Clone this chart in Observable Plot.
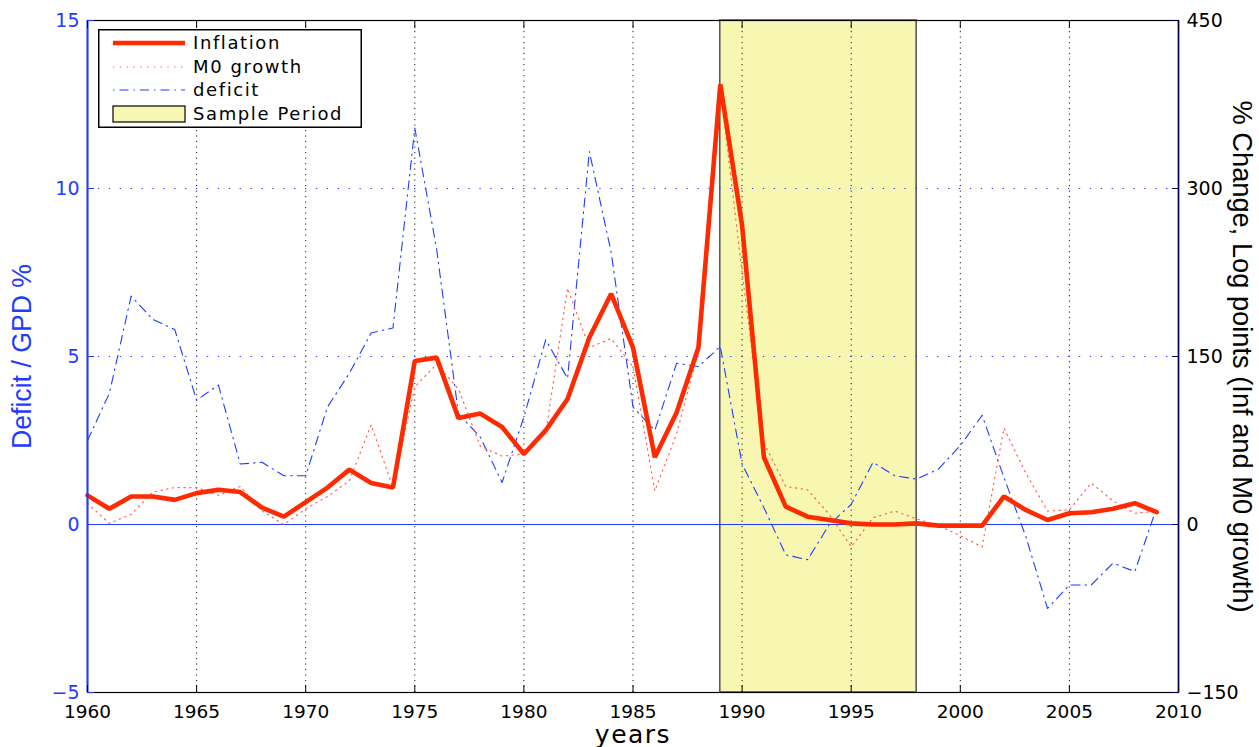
<!DOCTYPE html>
<html>
<head>
<meta charset="utf-8">
<script src="https://cdn.jsdelivr.net/npm/d3@7"></script>
<script src="https://cdn.jsdelivr.net/npm/@observablehq/plot@0.6"></script>
<style>
html, body { margin: 0; padding: 0; background: #fff; }
#wrap { position: relative; width: 1259px; height: 747px; font-family: "DejaVu Sans", sans-serif; }
#legend { position: absolute; left: 98px; top: 29px; }
</style>
</head>
<body>
<div id="wrap"></div>
<script>
// ---- data ----
const years = [1960,1961,1962,1963,1964,1965,1966,1967,1968,1969,
  1970,1971,1972,1973,1974,1975,1976,1977,1978,1979,
  1980,1981,1982,1983,1984,1985,1986,1987,1988,1989,
  1990,1991,1992,1993,1994,1995,1996,1997,1998,1999,
  2000,2001,2002,2003,2004,2005,2006,2007,2008,2009];
// inflation, % change log points (right axis)
const inflation = [26,14,25,25,22,28,31,29,15,7,
  20,33,49,37,33,146,149,95,99,87,
  63,84,112,167,206,158,60,100,158,393,
  267,60,16,7,4,1,0,0,1,-1,
  -1,-1,25,13,4,10,11,14,19,11];
// M0 growth, % change log points (right axis)
const m0growth = [19,1,9,29,33,33,26,34,12,0,
  14,25,39,89,33,123,143,121,70,61,
  63,82,211,158,166,141,30,81,155,390,
  225,73,34,31,9,-20,6,12,5,-1,
  -10,-20,86,46,12,13,37,21,10,12];
// deficit / GDP % (left axis)
const deficit = [2.5,3.9,6.8,6.1,5.8,3.7,4.15,1.8,1.85,1.45,
  1.45,3.5,4.5,5.7,5.85,11.8,8.2,3.3,2.6,1.25,
  3.2,5.5,4.35,11.1,8.1,3.5,2.8,4.8,4.7,5.3,
  1.8,0.5,-0.9,-1.05,0.0,0.6,1.85,1.45,1.35,1.65,
  2.35,3.25,1.4,-0.35,-2.5,-1.8,-1.8,-1.15,-1.4,0.5];
const samplePeriod = [1989, 1998];
const xTicks = [1960,1965,1970,1975,1980,1985,1990,1995,2000,2005,2010];
const leftTicks = [-5,0,5,10,15];
const rightTicks = [-150,0,150,300,450];
const gridLeft = [5,10];
const seriesNames = ["Inflation","M0 growth","deficit","Sample Period"];
const leftLabel = "Deficit / GPD %";
const rightLabel = "% Change, Log points (Inf and M0 growth)";
const xLabel = "years";

// ---- styling ----
const BLUE = "#1f3cff";
const RED = "#ff2a00";
const SALMON = "#ff6050";
const YELLOW = "#f8f7b2";
const NAVY = "#00005e";
const TICKFONT = "'DejaVu Sans', sans-serif";
const TITLEFONT = "'Liberation Sans', Arial, sans-serif";
const ratio = rightTicks[rightTicks.length-1] / leftTicks[leftTicks.length-1]; // right units per left unit
const minus = v => (v < 0 ? "\u2212" + Math.abs(v) : String(v));

const rows = years.map((y, i) => ({year: y, inf: inflation[i], m0: m0growth[i], def: deficit[i]}));

const plot = Plot.plot({
  width: 1259,
  height: 747,
  marginLeft: 87,
  marginRight: 81,
  marginTop: 20,
  marginBottom: 55,
  style: {fontFamily: TICKFONT, fontSize: "18px", background: "#fff", overflow: "visible"},
  x: {domain: [xTicks[0], xTicks[xTicks.length-1]]},
  y: {domain: [leftTicks[0], leftTicks[leftTicks.length-1]]},
  marks: [
    Plot.rect([{a: samplePeriod[0], b: samplePeriod[1]}], {x1: "a", x2: "b", fill: YELLOW, stroke: "#5a5a5a", strokeWidth: 1.6}),
    Plot.gridX(xTicks.slice(1, -1), {stroke: "#000", strokeOpacity: 0.9, strokeDasharray: "1.2,4.3"}),
    Plot.gridY(gridLeft, {stroke: BLUE, strokeOpacity: 1, strokeDasharray: "1.3,9.6"}),
    Plot.ruleY([0], {stroke: BLUE, strokeWidth: 1.2}),
    Plot.line(rows, {x: "year", y: "def", stroke: BLUE, strokeWidth: 1.1, strokeDasharray: "9,5,1.5,5"}),
    Plot.line(rows, {x: "year", y: d => d.m0 / ratio, stroke: SALMON, strokeWidth: 1.2, strokeDasharray: "1.3,4.5"}),
    Plot.line(rows, {x: "year", y: d => d.inf / ratio, stroke: RED, strokeWidth: 4.6, strokeLinejoin: "miter"}),
    Plot.frame({stroke: "#000", strokeWidth: 1.2}),
    Plot.ruleX([xTicks[0]], {stroke: BLUE, strokeWidth: 2}),
    Plot.ruleX([xTicks[xTicks.length-1]], {stroke: NAVY, strokeWidth: 1.6}),
    // bottom axis: labels + inner ticks
    Plot.axisX({ticks: xTicks, tickFormat: d => String(d), tickSize: 0, tickPadding: 12, label: null, fill: "#000", fontSize: 18.5}),
    Plot.axisX({ticks: xTicks, tickFormat: () => "", tickSize: -7, label: null, stroke: "#000"}),
    Plot.axisX({anchor: "top", ticks: xTicks, tickFormat: () => "", tickSize: -7, label: null, stroke: "#000"}),
    // left axis (deficit)
    Plot.axisY({ticks: leftTicks, tickFormat: minus, tickSize: 0, tickPadding: 8, label: null, fill: BLUE, fontSize: 19}),
    Plot.axisY({ticks: leftTicks, tickFormat: () => "", tickSize: -7, label: null, stroke: BLUE}),
    // right axis (inflation / M0)
    Plot.axisY({anchor: "right", ticks: rightTicks.map(t => t / ratio), tickFormat: d => minus(Math.round(d * ratio)), tickSize: 0, tickPadding: 8, label: null, fill: "#000", fontSize: 19}),
    Plot.axisY({anchor: "right", ticks: rightTicks.map(t => t / ratio), tickFormat: () => "", tickSize: -7, label: null, stroke: NAVY}),
    // axis titles
    Plot.text([leftLabel], {frameAnchor: "left", text: d => d, rotate: -90, dx: -65, textAnchor: "middle", lineAnchor: "middle", fill: BLUE, fontSize: 27, fontFamily: TITLEFONT}),
    Plot.text([rightLabel], {frameAnchor: "right", text: d => d, rotate: 90, dx: 63, textAnchor: "middle", lineAnchor: "middle", fill: "#000", fontSize: 27, fontFamily: TITLEFONT}),
    Plot.text([xLabel], {frameAnchor: "bottom", text: d => d, dy: 50, textAnchor: "middle", lineAnchor: "bottom", fill: "#000", fontSize: 25, fontFamily: TICKFONT})
  ]
});

const wrap = document.getElementById("wrap");
wrap.appendChild(plot);

// condensed look of the two y titles, letter spacing of the x title
d3.select(plot).selectAll("text").each(function() {
  const t = this.textContent;
  if (t === rightLabel) d3.select(this).attr("textLength", 512).attr("lengthAdjust", "spacingAndGlyphs");
  if (t === leftLabel) d3.select(this).attr("textLength", 185).attr("lengthAdjust", "spacingAndGlyphs");
  if (t === xLabel) d3.select(this).attr("letter-spacing", 1.5);
});

// ---- legend (inside the plot area, top-left) ----
const lw = 264, lh = 99;
const legend = d3.select(wrap).append("svg")
  .attr("id", "legend").attr("width", lw).attr("height", lh)
  .style("font-family", TICKFONT);
legend.append("rect").attr("x", 0.75).attr("y", 0.75).attr("width", lw - 1.5).attr("height", lh - 1.5)
  .attr("fill", "#fff").attr("stroke", "#000").attr("stroke-width", 1.5);
const rowY = [14, 38, 61, 85];
const sx1 = 15, sx2 = 87, tx = 95;
legend.append("line").attr("x1", sx1).attr("x2", sx2).attr("y1", rowY[0]).attr("y2", rowY[0])
  .attr("stroke", RED).attr("stroke-width", 4.6);
legend.append("line").attr("x1", sx1).attr("x2", sx2).attr("y1", rowY[1]).attr("y2", rowY[1])
  .attr("stroke", SALMON).attr("stroke-width", 1.2).attr("stroke-dasharray", "1.3,5.5");
legend.append("line").attr("x1", sx1).attr("x2", sx2).attr("y1", rowY[2]).attr("y2", rowY[2])
  .attr("stroke", BLUE).attr("stroke-width", 1.1).attr("stroke-dasharray", "1.5,5,9,5");
legend.append("rect").attr("x", sx1).attr("y", rowY[3] - 8).attr("width", sx2 - sx1).attr("height", 16)
  .attr("fill", YELLOW).attr("stroke", "#000").attr("stroke-width", 1.2);
legend.selectAll("text.lab").data(seriesNames).join("text").attr("class", "lab")
  .attr("x", tx).attr("y", (d, i) => rowY[i]).attr("dy", "0.36em")
  .attr("font-size", 18).attr("letter-spacing", 1.6).attr("fill", "#000").text(d => d);
</script>
</body>
</html>
